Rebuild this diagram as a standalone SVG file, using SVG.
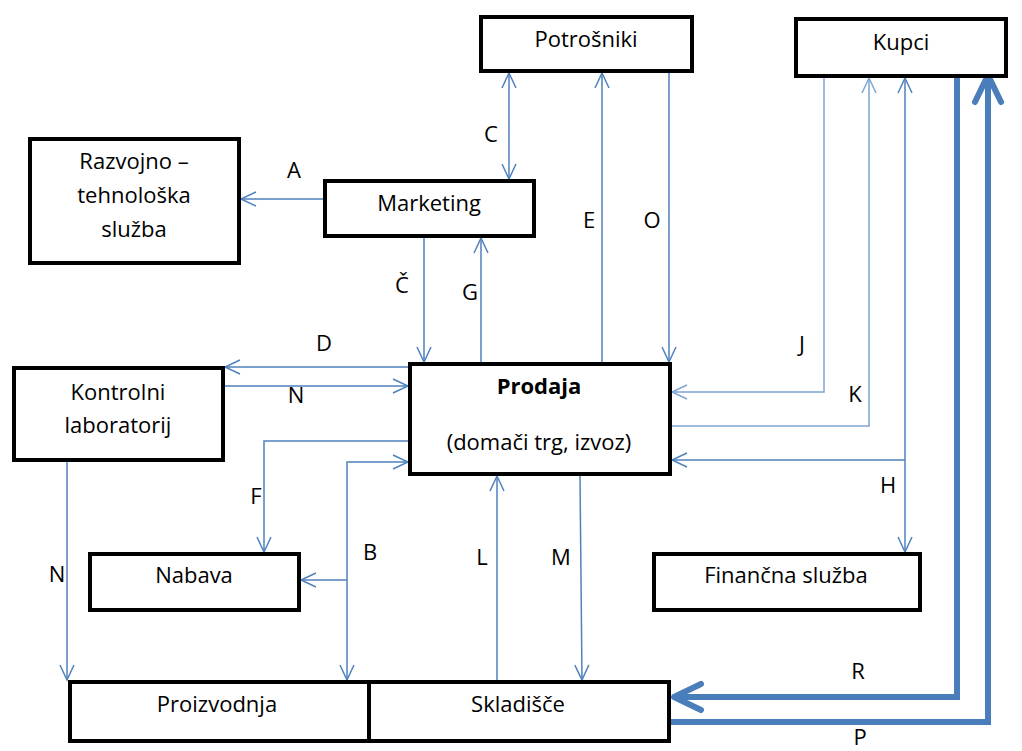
<svg xmlns="http://www.w3.org/2000/svg" width="1022" height="751" viewBox="0 0 1022 751">
<style>
.box{fill:#fff;stroke:#000;stroke-width:4}
.t{font-family:"Open Sans","Liberation Sans",sans-serif;font-size:22px;fill:#000;text-anchor:middle}
.b{font-weight:bold}
.c{fill:none;stroke:#4F81BD;stroke-width:1.5}
.cl{fill:none;stroke:#7FA4D2;stroke-width:1.5}
.ct{fill:none;stroke:#4A7EBB;stroke-width:6}
</style>
<defs>
<marker id="ah" viewBox="-17 -9 19 18" refX="0" refY="0" markerWidth="19" markerHeight="18" markerUnits="userSpaceOnUse" orient="auto-start-reverse">
<path d="M-15,-7 L0,0 L-15,7" fill="none" stroke="#4F81BD" stroke-width="1.5"/>
</marker>
<marker id="ahl" viewBox="-17 -9 19 18" refX="0" refY="0" markerWidth="19" markerHeight="18" markerUnits="userSpaceOnUse" orient="auto-start-reverse">
<path d="M-15,-7 L0,0 L-15,7" fill="none" stroke="#7FA4D2" stroke-width="1.5"/>
</marker>
<marker id="aht" viewBox="-34 -19 38 38" refX="0" refY="0" markerWidth="38" markerHeight="38" markerUnits="userSpaceOnUse" orient="auto">
<path d="M-27,-13 L0,0 L-27,13" fill="none" stroke="#4A7EBB" stroke-width="6" stroke-linecap="round" stroke-linejoin="round"/>
</marker>
</defs>

<g id="connectors">
<!-- A -->
<line class="c" x1="323" y1="199" x2="241" y2="199" marker-end="url(#ah)"/>
<!-- C -->
<line class="c" x1="509" y1="73" x2="509" y2="179" marker-start="url(#ah)" marker-end="url(#ah)"/>
<!-- Č -->
<line class="c" x1="424" y1="238" x2="424" y2="362" marker-end="url(#ah)"/>
<!-- G -->
<line class="c" x1="481" y1="362" x2="481" y2="238" marker-end="url(#ah)"/>
<!-- E -->
<line class="c" x1="602" y1="362" x2="602" y2="73" marker-end="url(#ah)"/>
<!-- O -->
<line class="c" x1="669" y1="73" x2="669" y2="362" marker-end="url(#ah)"/>
<!-- D -->
<line class="c" x1="408" y1="367" x2="225" y2="367" marker-end="url(#ah)"/>
<!-- N upper -->
<line class="c" x1="222" y1="386" x2="408" y2="386" marker-end="url(#ah)"/>
<!-- J -->
<polyline class="cl" points="824,78 824,392 672,392" marker-end="url(#ahl)"/>
<!-- K -->
<polyline class="cl" points="672,426 869,426 869,78" marker-end="url(#ahl)"/>
<!-- H -->
<line class="c" x1="905" y1="78" x2="905" y2="552" marker-start="url(#ah)" marker-end="url(#ah)"/>
<line class="c" x1="905" y1="460" x2="672" y2="460" marker-end="url(#ah)"/>
<!-- F -->
<polyline class="c" points="408,441 264,441 264,552" marker-end="url(#ah)"/>
<!-- B -->
<polyline class="c" points="408,462 347,462 347,680" marker-start="url(#ah)" marker-end="url(#ah)"/>
<line class="c" x1="347" y1="580" x2="301" y2="580" marker-end="url(#ah)"/>
<!-- N lower -->
<line class="c" x1="67" y1="462" x2="67" y2="680" marker-end="url(#ah)"/>
<!-- L -->
<line class="c" x1="497" y1="680" x2="497" y2="476" marker-end="url(#ah)"/>
<!-- M -->
<line class="c" x1="580" y1="476" x2="582" y2="680" marker-end="url(#ah)"/>
<!-- R -->
<polyline class="ct" points="957,76 957,697 674,697" marker-end="url(#aht)"/>
<!-- P -->
<polyline class="ct" points="669,722 988,722 988,75" marker-end="url(#aht)"/>
</g>

<g id="potrosniki"><rect class="box" x="481" y="17" width="211" height="54"/><text class="t" x="586" y="47">Potrošniki</text></g>
<g id="kupci"><rect class="box" x="796" y="19" width="210" height="57"/><text class="t" x="901" y="50">Kupci</text></g>
<g id="razvojno"><rect class="box" x="30" y="139" width="209" height="124"/><text class="t" x="134" y="169">Razvojno –</text><text class="t" x="134" y="203">tehnološka</text><text class="t" x="134" y="237">služba</text></g>
<g id="marketing"><rect class="box" x="325" y="181" width="209" height="55"/><text class="t" x="429" y="211">Marketing</text></g>
<g id="kontrolni"><rect class="box" x="14" y="368" width="209" height="92"/><text class="t" x="118" y="400">Kontrolni</text><text class="t" x="118" y="433">laboratorij</text></g>
<g id="prodaja"><rect class="box" x="410" y="364" width="260" height="110"/><text class="t b" x="539" y="394">Prodaja</text><text class="t" x="539" y="450">(domači trg, izvoz)</text></g>
<g id="nabava"><rect class="box" x="90" y="554" width="209" height="56"/><text class="t" x="194" y="583">Nabava</text></g>
<g id="financna"><rect class="box" x="654" y="554" width="266" height="56"/><text class="t" x="786" y="583">Finančna služba</text></g>
<g id="proizvodnja"><rect class="box" x="70" y="682" width="299" height="59"/><text class="t" x="217" y="712">Proizvodnja</text></g>
<g id="skladisce"><rect class="box" x="369" y="682" width="300" height="59"/><text class="t" x="518" y="712">Skladišče</text></g>

<g id="labels">
<text class="t" x="294" y="178">A</text>
<text class="t" x="491" y="142">C</text>
<text class="t" x="402" y="293">Č</text>
<text class="t" x="470" y="300">G</text>
<text class="t" x="589" y="228">E</text>
<text class="t" x="652" y="228">O</text>
<text class="t" x="324" y="351">D</text>
<text class="t" x="296" y="403">N</text>
<text class="t" x="802" y="352">J</text>
<text class="t" x="855" y="402">K</text>
<text class="t" x="888" y="493">H</text>
<text class="t" x="256" y="504">F</text>
<text class="t" x="370" y="560">B</text>
<text class="t" x="482" y="565">L</text>
<text class="t" x="561" y="565">M</text>
<text class="t" x="57" y="582">N</text>
<text class="t" x="858" y="679">R</text>
<text class="t" x="860" y="745">P</text>
</g>
</svg>
